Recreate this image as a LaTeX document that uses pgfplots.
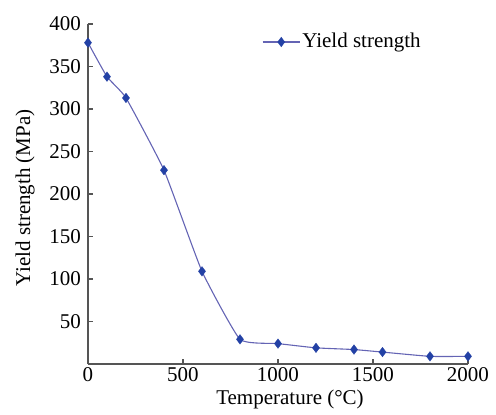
\documentclass[border=0pt]{standalone}
\usepackage{pgfplots}
\pgfplotsset{compat=1.18}
\usepackage{fontspec}
\setmainfont{Liberation Serif}
\definecolor{linecol}{RGB}{100,100,180}
\definecolor{markcol}{RGB}{35,65,165}
\definecolor{axcol}{RGB}{85,85,85}
\begin{document}
\fontsize{21}{25}\selectfont
\begin{tikzpicture}
\useasboundingbox (-88pt,-51pt) rectangle (408pt,364pt);
\begin{axis}[
  at={(0pt,0pt)}, anchor=south west,
  scale only axis, width=380pt, height=340pt,
  xmin=0, xmax=2000, ymin=0, ymax=400,
  axis x line=bottom, axis y line=left,
  axis line style={-, axcol, line width=1.3pt},
  xtick={0,500,1000,1500,2000},
  ytick={50,100,150,200,250,300,350,400},
  tick align=inside,
  major tick length=5pt,
  tick style={axcol, line width=1.1pt},
  /pgf/number format/assume math mode=true,
  /pgf/number format/set thousands separator={},
  tick label style={font=\fontsize{21}{25}\selectfont},
  xticklabel style={inner sep=1pt, yshift=-2pt},
  label style={font=\fontsize{21}{25}\selectfont},
  xlabel={Temperature (°C)},
  ylabel={Yield strength (MPa)},
  every axis x label/.style={at={(axis description cs:0.5,0)}, anchor=center, inner sep=0pt, xshift=12pt, yshift=-35pt},
  every axis y label/.style={at={(axis description cs:0,0.5)}, xshift=-63pt, yshift=-4pt, rotate=90, anchor=center},
  legend style={at={(rel axis cs:0.45,0.947)}, anchor=west, draw=none, fill=none, font=\fontsize{21}{25}\selectfont, legend cell align=left},
  legend image code/.code={\draw[mark repeat=2,mark phase=2] plot coordinates {(0cm,0cm) (0.65cm,0cm) (1.3cm,0cm)};},
]
\addplot[color=linecol, line width=1.1pt, smooth, tension=0.25,
  mark=diamond*, mark size=4.8pt, mark options={solid, fill=markcol, draw=markcol, line width=0.3pt}]
coordinates {
(0,378) (100,338) (200,313) (400,228) (600,109) (800,29)
(1000,24) (1200,19) (1400,17) (1550,14) (1800,9) (2000,9)
};
\addlegendentry{Yield strength}
\end{axis}
\end{tikzpicture}
\end{document}
